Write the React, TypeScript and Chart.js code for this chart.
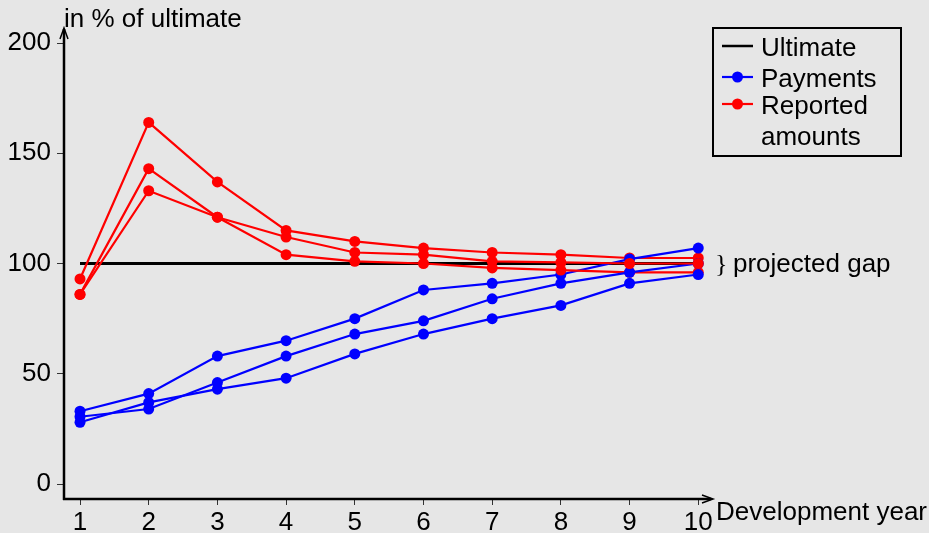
import React, { useEffect, useRef } from "react";
import { Chart, registerables } from "chart.js";

Chart.register(...registerables);

const years = [1, 2, 3, 4, 5, 6, 7, 8, 9, 10];
const xTicks = [1, 2, 3, 4, 5, 6, 7, 8, 9, 10];
const yTicks = [0, 50, 100, 150, 200];
const ultimate = [100, 100, 100, 100, 100, 100, 100, 100, 100, 100];
const payments1 = [33, 41, 58, 65, 75, 88, 91, 95, 102, 107];
const payments2 = [28, 37, 43, 48, 59, 68, 75, 81, 91, 95];
const payments3 = [30.5, 34, 46, 58, 68, 74, 84, 91, 96, 100];
const reported1 = [93, 164, 137, 115, 110, 107, 105, 104, 102.5, 102.5];
const reported2 = [86, 133, 121, 112, 105, 104, 101, 100.5, 100, 100];
const reported3 = [86, 143, 121, 104, 101, 100, 98, 97, 96, 96];

const BG = "#e6e6e6";
const FONT = "'Liberation Sans', Arial, sans-serif";
const FS = 26;

const toPts = (arr: number[]) => years.map((x, i) => ({ x, y: arr[i] }));

const decor = {
  id: "decor",
  beforeDraw(chart: any) {
    const ctx = chart.ctx;
    ctx.save();
    ctx.fillStyle = BG;
    ctx.fillRect(0, 0, chart.width, chart.height);
    ctx.restore();
  },
  afterDraw(chart: any) {
    const ctx = chart.ctx;
    const { left, right, top, bottom } = chart.chartArea;
    ctx.save();
    // axes
    ctx.strokeStyle = "#000";
    ctx.lineWidth = 2.5;
    ctx.beginPath();
    ctx.moveTo(left, bottom + 1);
    ctx.lineTo(left, top - 1);
    ctx.moveTo(left - 1, bottom);
    ctx.lineTo(right - 1, bottom);
    ctx.stroke();
    ctx.lineWidth = 1.5;
    ctx.beginPath();
    ctx.moveTo(left - 4, top + 9);
    ctx.lineTo(left, top - 2);
    ctx.lineTo(left + 4, top + 9);
    ctx.moveTo(right - 10, bottom - 4);
    ctx.lineTo(right + 1, bottom);
    ctx.lineTo(right - 10, bottom + 4);
    ctx.stroke();

    // titles
    ctx.fillStyle = "#000";
    ctx.font = `${FS}px ${FONT}`;
    ctx.textBaseline = "alphabetic";
    ctx.textAlign = "left";
    ctx.fillText("in % of ultimate", 64, 27);
    ctx.fillText("Development year", 716, 520);

    // projected gap
    const ys = chart.scales.y;
    const yGap = ys.getPixelForValue(100);
    ctx.font = `${FS}px 'Liberation Serif', 'Times New Roman', serif`;
    ctx.fillText("}", 715, yGap + 8);
    ctx.font = `${FS}px ${FONT}`;
    ctx.fillText("projected gap", 733, yGap + 8);

    // legend
    ctx.lineWidth = 2;
    ctx.strokeStyle = "#000";
    ctx.strokeRect(713, 28, 188, 128);
    const items = [
      { label: ["Ultimate"], color: "#000", dot: false, y: 46 },
      { label: ["Payments"], color: "#0000ff", dot: true, y: 77 },
      { label: ["Reported", "amounts"], color: "#ff0000", dot: true, y: 104 },
    ];
    items.forEach((it) => {
      ctx.strokeStyle = it.color;
      ctx.lineWidth = it.dot ? 2.2 : 2.5;
      ctx.beginPath();
      ctx.moveTo(722, it.y);
      ctx.lineTo(753, it.y);
      ctx.stroke();
      if (it.dot) {
        ctx.fillStyle = it.color;
        ctx.beginPath();
        ctx.arc(737.5, it.y, 5.5, 0, Math.PI * 2);
        ctx.fill();
      }
      ctx.fillStyle = "#000";
      it.label.forEach((t, k) => {
        ctx.fillText(t, 761, it.y + 10 + k * 31);
      });
    });
    ctx.restore();
  },
};

const lineDs = (label: string, arr: number[], color: string, order: number) => ({
  label,
  data: toPts(arr),
  borderColor: color,
  backgroundColor: color,
  borderWidth: 2.2,
  pointRadius: 5.5,
  pointHoverRadius: 5.5,
  pointBorderWidth: 0,
  tension: 0,
  order,
});

export default function App() {
  const ref = useRef<HTMLCanvasElement | null>(null);
  useEffect(() => {
    document.body.style.margin = "0";
    document.body.style.background = BG;
    const canvas = ref.current!;
    const chart = new Chart(canvas, {
      type: "line",
      data: {
        datasets: [
          {
            label: "Ultimate",
            data: toPts(ultimate),
            borderColor: "#000",
            backgroundColor: "#000",
            borderWidth: 3,
            pointRadius: 0,
            order: 10,
          },
          lineDs("Reported amounts", reported1, "#ff0000", 9),
          lineDs("Payments", payments1, "#0000ff", 8),
          lineDs("Reported amounts", reported3, "#ff0000", 7),
          lineDs("Payments", payments3, "#0000ff", 6),
          lineDs("Reported amounts", reported2, "#ff0000", 5),
          lineDs("Payments", payments2, "#0000ff", 4),
        ] as any,
      },
      options: {
        responsive: false,
        animation: false,
        devicePixelRatio: 1,
        layout: { padding: { left: 0, right: 217, top: 30, bottom: 0 } },
        plugins: { legend: { display: false }, tooltip: { enabled: false } },
        scales: {
          x: {
            type: "linear",
            min: 0.767,
            max: 10.2,
            afterBuildTicks: (s: any) => {
              s.ticks = xTicks.map((v) => ({ value: v }));
            },
            afterFit: (s: any) => {
              s.height = 34;
            },
            grid: {
              display: true,
              drawOnChartArea: false,
              drawTicks: true,
              tickLength: 6,
              color: "#333",
              lineWidth: 1,
            },
            border: { display: false },
            ticks: {
              color: "#000",
              font: { family: FONT, size: FS },
              padding: 2,
              maxRotation: 0,
              autoSkip: false,
            },
          },
          y: {
            type: "linear",
            min: -6.8,
            max: 205.9,
            afterBuildTicks: (s: any) => {
              s.ticks = yTicks.map((v) => ({ value: v }));
            },
            afterFit: (s: any) => {
              s.width = 64;
            },
            grid: {
              display: true,
              drawOnChartArea: false,
              drawTicks: true,
              tickLength: 7,
              color: "#333",
              lineWidth: 1,
            },
            border: { display: false },
            ticks: {
              color: "#000",
              font: { family: FONT, size: FS },
              padding: 6,
              autoSkip: false,
            },
          },
        },
      },
      plugins: [decor],
    });
    return () => chart.destroy();
  }, []);
  return <canvas ref={ref} width={929} height={533} style={{ display: "block" }} />;
}
